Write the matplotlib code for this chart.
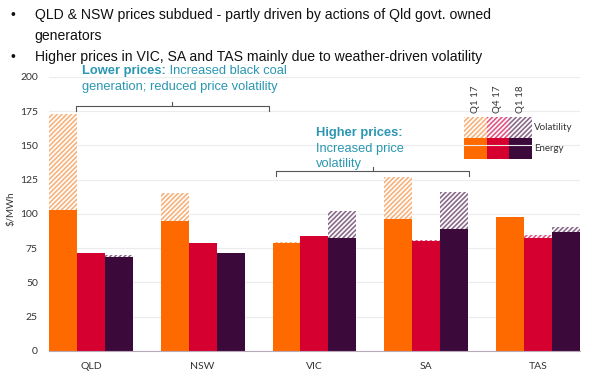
import matplotlib.pyplot as plt
import numpy as np
from matplotlib.patches import Rectangle

regions = ['QLD', 'NSW', 'VIC', 'SA', 'TAS']
periods = ['Q1 17', 'Q4 17', 'Q1 18']

# $/MWh, energy component and volatility component stacked on top
energy_q1_17 = [103, 94.5, 78.5, 96.5, 97.5]
vol_q1_17 = [70, 21, 0.8, 30.5, 0]
energy_q4_17 = [71.5, 79, 84.2, 80.3, 82.2]
vol_q4_17 = [0, 0, 0, 0.7, 2.5]
energy_q1_18 = [68.5, 71.5, 82.7, 89.3, 86.9]
vol_q1_18 = [1.2, 0, 19.5, 26.7, 3.4]

energy = [energy_q1_17, energy_q4_17, energy_q1_18]
vol = [vol_q1_17, vol_q4_17, vol_q1_18]
solid = ['#ff6a00', '#d5002f', '#3c0a3a']
hatchc = ['#f7b27c', '#e25686', '#8a6a8a']
teal = '#2a97b2'

plt.rcParams['hatch.linewidth'] = 1.2

fig = plt.figure(figsize=(5.9, 3.75), dpi=100)
ax = fig.add_axes([0.083, 0.064, 0.9, 0.731])

x = np.arange(len(regions))
w = 0.25
for i in range(3):
    xs = x + (i - 1) * w
    ax.bar(xs, energy[i], w, color=solid[i], linewidth=0, zorder=2)
    ax.bar(xs, vol[i], w, bottom=energy[i], facecolor='white', edgecolor=hatchc[i],
           hatch='///////', linewidth=0, zorder=2)

ax.set_xlim(-0.375, 4.375)
ax.set_ylim(0, 200)
ax.set_yticks(range(0, 201, 25))
ax.set_xticks(x)
ax.set_xticklabels(regions)
ax.grid(axis='y', color='#ececec', linewidth=0.8, zorder=0)
for s in ['left', 'right', 'top']:
    ax.spines[s].set_visible(False)
ax.spines['bottom'].set_color('#b8a8b8')
ax.tick_params(length=0, labelsize=7.5, colors='#333333', pad=8)
for lab in ax.get_xticklabels() + ax.get_yticklabels():
    lab.set_family('Lato')
ax.set_ylabel('$/MWh', fontsize=7, family='Lato', color='#333333')
ax.yaxis.set_label_coords(-0.064, 0.52)

# header bullets
hdr = dict(fontsize=10.1, family='Liberation Sans', color='#111111', va='center')
fig.text(0.017, 1 - 15 / 375, '\u2022', **hdr)
fig.text(0.059, 1 - 15 / 375, 'QLD & NSW prices subdued - partly driven by actions of Qld govt. owned', **hdr)
fig.text(0.059, 1 - 36 / 375, 'generators', **hdr)
fig.text(0.017, 1 - 57 / 375, '\u2022', **hdr)
fig.text(0.059, 1 - 57 / 375, 'Higher prices in VIC, SA and TAS mainly due to weather-driven volatility', **hdr)

# annotations
ann = dict(fontsize=9.3, family='Liberation Sans', color=teal)
t1 = ax.text(-0.08, 204, 'Lower prices:', fontweight='bold', va='center', clip_on=False, **ann)
ax.annotate(' Increased black coal', xy=(1, 0.5), xycoords=t1, va='center', **ann)
ax.text(-0.08, 192.5, 'generation; reduced price volatility', va='center', clip_on=False, **ann)

ax.text(2.01, 159, 'Higher prices:', fontweight='bold', va='center', **ann)
ax.text(2.01, 147.3, 'Increased price', va='center', **ann)
ax.text(2.01, 136.3, 'volatility', va='center', **ann)


def bracket(x0, x1, y):
    ax.plot([x0, x0, x1, x1], [y - 3.5, y, y, y - 3.5], color='#555555', lw=0.8, clip_on=False)
    xm = (x0 + x1) / 2
    ax.plot([xm, xm], [y, y + 3], color='#555555', lw=0.8, clip_on=False)


bracket(-0.13, 1.59, 178.5)
bracket(1.66, 3.38, 131.5)

# legend block
lx0, cw = 0.7815, 0.0427
for i in range(3):
    ax.add_patch(Rectangle((lx0 + i * cw, 0.777), cw, 0.077, transform=ax.transAxes,
                           facecolor='white', edgecolor=hatchc[i], hatch='///////', linewidth=0))
    ax.add_patch(Rectangle((lx0 + i * cw, 0.7007), cw, 0.0763, transform=ax.transAxes,
                           facecolor=solid[i], linewidth=0))
    ax.text(lx0 + (i + 0.5) * cw, 0.92, periods[i], rotation=90, transform=ax.transAxes,
            ha='center', va='center', fontsize=7, family='Lato', color='#333333')
ax.text(lx0 + 3 * cw + 0.004, 0.815, 'Volatility', transform=ax.transAxes, va='center',
        fontsize=7, family='Lato', color='#333333')
ax.text(lx0 + 3 * cw + 0.004, 0.738, 'Energy', transform=ax.transAxes, va='center',
        fontsize=7, family='Lato', color='#333333')

fig.savefig('out.png', dpi=100)
